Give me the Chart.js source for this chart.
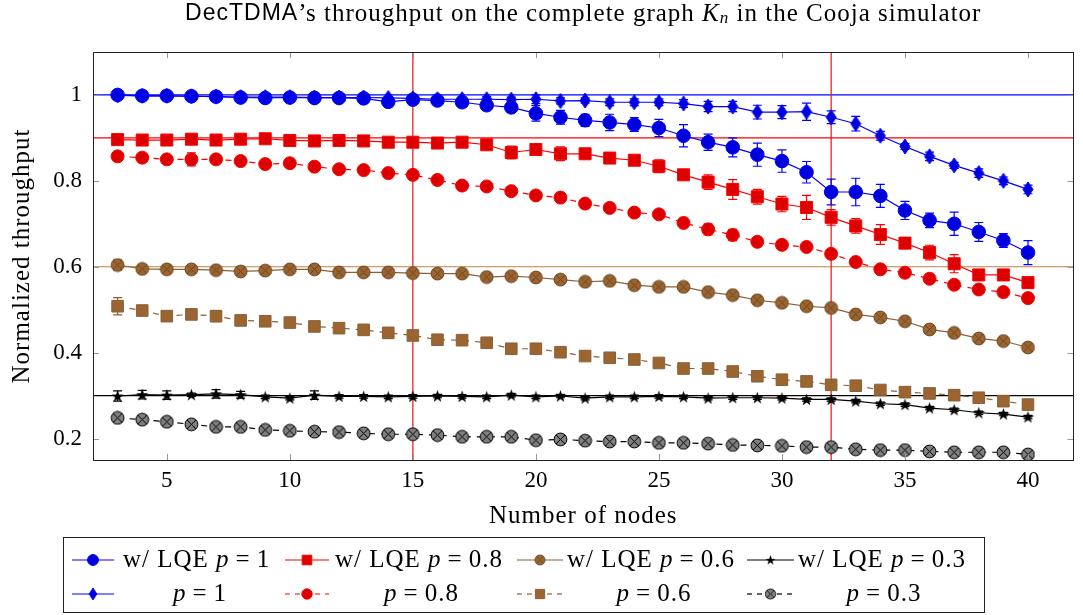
<!DOCTYPE html>
<html>
<head>
<meta charset="utf-8">
<script src="https://cdn.jsdelivr.net/npm/chart.js@4"></script>
<style>
  html, body { margin: 0; padding: 0; background: #fff; }
  #wrap { width: 1083px; height: 615px; }
</style>
</head>
<body>
<div id="wrap"><canvas id="c" width="1083" height="615"></canvas></div>
<script>
const nodes = [3, 4, 5, 6, 7, 8, 9, 10, 11, 12, 13, 14, 15, 16, 17, 18, 19, 20, 21, 22,
  23, 24, 25, 26, 27, 28, 29, 30, 31, 32, 33, 34, 35, 36, 37, 38, 39, 40];

// w/ LQE series
const lqeP1 = [1.0, 0.998, 0.998, 0.997, 0.996, 0.994, 0.993, 0.994, 0.993, 0.993, 0.992, 0.984, 0.989,
  0.987, 0.983, 0.976, 0.971, 0.957, 0.948, 0.941, 0.936, 0.931, 0.923, 0.905, 0.89, 0.878,
  0.861, 0.846, 0.82, 0.774, 0.774, 0.765, 0.731, 0.708, 0.7, 0.681, 0.661, 0.633];
const lqeP08 = [0.896, 0.895, 0.895, 0.897, 0.895, 0.897, 0.898, 0.894, 0.893, 0.894, 0.893, 0.89, 0.89,
  0.888, 0.89, 0.884, 0.866, 0.873, 0.863, 0.863, 0.853, 0.848, 0.834, 0.814, 0.797, 0.78,
  0.763, 0.746, 0.738, 0.715, 0.695, 0.675, 0.655, 0.633, 0.607, 0.581, 0.581, 0.563];
const lqeP06 = [0.604, 0.595, 0.594, 0.594, 0.592, 0.589, 0.591, 0.594, 0.594, 0.587, 0.587, 0.587, 0.585,
  0.584, 0.584, 0.576, 0.578, 0.575, 0.57, 0.565, 0.567, 0.557, 0.553, 0.553, 0.541, 0.534,
  0.522, 0.516, 0.508, 0.504, 0.489, 0.482, 0.473, 0.454, 0.446, 0.433, 0.427, 0.412];
const lqeP03 = [0.299, 0.302, 0.301, 0.302, 0.304, 0.302, 0.297, 0.294, 0.301, 0.298, 0.298, 0.297, 0.298,
  0.299, 0.298, 0.297, 0.301, 0.297, 0.299, 0.294, 0.297, 0.297, 0.298, 0.297, 0.294, 0.295,
  0.295, 0.294, 0.291, 0.291, 0.287, 0.281, 0.279, 0.271, 0.267, 0.26, 0.257, 0.25];

// without LQE
const p1 = [0.999, 0.998, 0.998, 0.997, 0.996, 0.995, 0.995, 0.995, 0.994, 0.994, 0.994, 0.993, 0.992,
  0.99, 0.99, 0.99, 0.989, 0.99, 0.986, 0.987, 0.983, 0.983, 0.983, 0.98, 0.973, 0.973,
  0.96, 0.96, 0.961, 0.948, 0.933, 0.905, 0.88, 0.857, 0.836, 0.818, 0.8, 0.78];
const p08 = [0.857, 0.854, 0.85, 0.85, 0.85, 0.846, 0.839, 0.841, 0.833, 0.827, 0.825, 0.818, 0.814,
  0.802, 0.789, 0.787, 0.776, 0.766, 0.761, 0.747, 0.737, 0.726, 0.722, 0.702, 0.687, 0.674,
  0.658, 0.651, 0.646, 0.63, 0.611, 0.594, 0.586, 0.572, 0.558, 0.547, 0.541, 0.527];
const p06 = [0.508, 0.498, 0.485, 0.489, 0.485, 0.475, 0.473, 0.47, 0.461, 0.457, 0.453, 0.446, 0.44,
  0.43, 0.429, 0.423, 0.409, 0.409, 0.401, 0.392, 0.388, 0.384, 0.376, 0.363, 0.363, 0.356,
  0.345, 0.337, 0.333, 0.325, 0.323, 0.313, 0.308, 0.305, 0.301, 0.295, 0.287, 0.279];
const p03 = [0.248, 0.244, 0.239, 0.233, 0.227, 0.227, 0.22, 0.218, 0.216, 0.215, 0.212, 0.21, 0.21,
  0.208, 0.204, 0.204, 0.204, 0.196, 0.198, 0.195, 0.193, 0.193, 0.19, 0.19, 0.188, 0.185,
  0.184, 0.183, 0.18, 0.18, 0.175, 0.173, 0.173, 0.17, 0.168, 0.168, 0.168, 0.163];

// error bar half-widths
const errLqeP1 = [0.003, 0.003, 0.003, 0.003, 0.003, 0.003, 0.003, 0.003, 0.003, 0.003, 0.003, 0.003, 0.003,
  0.003, 0.003, 0.01, 0.01, 0.018, 0.016, 0.014, 0.019, 0.016, 0.02, 0.026, 0.019, 0.022,
  0.027, 0.026, 0.025, 0.03, 0.032, 0.027, 0.021, 0.017, 0.027, 0.022, 0.016, 0.028];
const errLqeP08 = [0.004, 0.004, 0.004, 0.004, 0.004, 0.004, 0.004, 0.004, 0.004, 0.004, 0.004, 0.004, 0.004,
  0.004, 0.004, 0.004, 0.015, 0.008, 0.016, 0.008, 0.008, 0.008, 0.015, 0.01, 0.017, 0.023,
  0.017, 0.018, 0.028, 0.018, 0.017, 0.023, 0.012, 0.017, 0.021, 0.008, 0.008, 0.008];
const errLqeP06 = [0.012, 0.004, 0.01, 0.004, 0.004, 0.004, 0.004, 0.004, 0.004, 0.004, 0.004, 0.004, 0.004,
  0.004, 0.004, 0.004, 0.004, 0.004, 0.004, 0.004, 0.004, 0.004, 0.004, 0.004, 0.004, 0.004,
  0.004, 0.004, 0.004, 0.004, 0.004, 0.004, 0.004, 0.004, 0.004, 0.004, 0.004, 0.004];
const errLqeP03 = [0.012, 0.01, 0.01, 0.004, 0.01, 0.008, 0.004, 0.004, 0.01, 0.004, 0.004, 0.004, 0.004,
  0.004, 0.004, 0.004, 0.004, 0.004, 0.004, 0.004, 0.004, 0.004, 0.004, 0.004, 0.004, 0.004,
  0.004, 0.004, 0.004, 0.004, 0.004, 0.004, 0.004, 0.004, 0.004, 0.004, 0.004, 0.004];
const errP1 = [0.003, 0.003, 0.003, 0.003, 0.003, 0.003, 0.003, 0.003, 0.003, 0.003, 0.003, 0.003, 0.003,
  0.005, 0.006, 0.006, 0.006, 0.01, 0.007, 0.006, 0.008, 0.008, 0.008, 0.009, 0.012, 0.012,
  0.016, 0.015, 0.02, 0.015, 0.017, 0.01, 0.007, 0.01, 0.007, 0.01, 0.009, 0.01];
const errP08 = [0.004, 0.004, 0.006, 0.015, 0.004, 0.004, 0.004, 0.004, 0.004, 0.004, 0.004, 0.004, 0.004,
  0.004, 0.004, 0.004, 0.004, 0.004, 0.004, 0.004, 0.004, 0.004, 0.004, 0.004, 0.013, 0.013,
  0.008, 0.008, 0.008, 0.006, 0.006, 0.006, 0.006, 0.006, 0.006, 0.006, 0.006, 0.006];
const errP06 = [0.02, 0.004, 0.004, 0.004, 0.013, 0.004, 0.004, 0.004, 0.004, 0.004, 0.004, 0.004, 0.004,
  0.004, 0.004, 0.004, 0.004, 0.004, 0.004, 0.004, 0.004, 0.004, 0.004, 0.004, 0.004, 0.004,
  0.004, 0.004, 0.004, 0.004, 0.004, 0.004, 0.004, 0.004, 0.004, 0.004, 0.004, 0.004];
const errP03 = nodes.map(() => 0.003);

const xTicks = [5, 10, 15, 20, 25, 30, 35, 40];
const yTicks = [0.2, 0.4, 0.6, 0.8, 1];
const refLevels = [1, 0.9, 0.6, 0.3];
const refLevelColors = ['#0000ff', '#ff0000', '#c08040', '#000000'];
const refNodes = [15, 32];

const serif = '"Liberation Serif", "Times New Roman", serif';
const sans = '"Liberation Sans", Arial, sans-serif';
const tickSize = 23;
const textSize = 25;

// little canvases used as point styles
function marker(w, h, fn) {
  const c = document.createElement('canvas');
  c.width = w;
  c.height = h;
  fn(c.getContext('2d'), w / 2, h / 2);
  return c;
}
const circleX = (fill, edge) => marker(15, 15, (ctx, cx, cy) => {
  const r = 6.4;
  ctx.beginPath();
  ctx.arc(cx, cy, r, 0, Math.PI * 2);
  ctx.fillStyle = fill;
  ctx.fill();
  ctx.lineWidth = 1;
  ctx.strokeStyle = edge;
  ctx.stroke();
  const d = r * Math.SQRT1_2;
  ctx.beginPath();
  ctx.moveTo(cx - d, cy - d); ctx.lineTo(cx + d, cy + d);
  ctx.moveTo(cx + d, cy - d); ctx.lineTo(cx - d, cy + d);
  ctx.stroke();
});
const diamond = marker(12, 17, (ctx, cx, cy) => {
  ctx.beginPath();
  ctx.moveTo(cx, cy - 7.5); ctx.lineTo(cx + 5, cy); ctx.lineTo(cx, cy + 7.5); ctx.lineTo(cx - 5, cy);
  ctx.closePath();
  ctx.fillStyle = '#0000dd';
  ctx.fill();
  ctx.strokeStyle = '#0000ff';
  ctx.lineWidth = 1;
  ctx.stroke();
});
const star = marker(15, 15, (ctx, cx, cy) => {
  ctx.beginPath();
  for (let k = 0; k < 10; k++) {
    const r = k % 2 ? 2.6 : 6.5;
    const a = -Math.PI / 2 + k * Math.PI / 5;
    ctx.lineTo(cx + r * Math.cos(a), cy + 0.5 + r * Math.sin(a));
  }
  ctx.closePath();
  ctx.fillStyle = '#000';
  ctx.fill();
});

const series = [
  { lqe: true, p: '1', data: lqeP1, err: errLqeP1, line: '#0000ff', fill: '#0000dd', style: 'circle', radius: 6.8, dash: [] },
  { lqe: true, p: '0.8', data: lqeP08, err: errLqeP08, line: '#ff0000', fill: '#dd0000', style: 'rect', radius: 8.5, dash: [] },
  { lqe: true, p: '0.6', data: lqeP06, err: errLqeP06, line: '#8a6038', fill: '#9a6530', style: circleX('#9a6530', '#6e4520'), radius: 7, dash: [] },
  { lqe: true, p: '0.3', data: lqeP03, err: errLqeP03, line: '#000000', fill: '#000', style: star, radius: 7, dash: [] },
  { lqe: false, p: '1', data: p1, err: errP1, line: '#0000ff', fill: '#0000dd', style: diamond, radius: 7, dash: [] },
  { lqe: false, p: '0.8', data: p08, err: errP08, line: '#ff0000', fill: '#dd0000', style: 'circle', radius: 6.5, dash: [6, 6] },
  { lqe: false, p: '0.6', data: p06, err: errP06, line: '#8a6038', fill: '#9a6530', style: 'rect', radius: 8.2, dash: [6, 6] },
  { lqe: false, p: '0.3', data: p03, err: errP03, line: '#000000', fill: '#808080', style: circleX('#808080', '#000'), radius: 7, dash: [6, 6] },
];

const datasets = series.map((s, i) => ({
  label: (s.lqe ? 'w/ LQE ' : '') + 'p = ' + s.p,
  data: nodes.map((n, k) => ({ x: n, y: s.data[k] })),
  errors: s.err,
  borderColor: s.line,
  borderWidth: 1.2,
  borderDash: s.dash,
  backgroundColor: s.fill,
  pointStyle: s.style,
  pointRadius: s.radius,
  pointBorderColor: s.line,
  pointBorderWidth: 1,
  pointBackgroundColor: s.fill,
  tension: 0,
  order: series.length - i,
}));

const refLinesPlugin = {
  id: 'refLines',
  beforeDatasetsDraw(chart) {
    const { ctx, chartArea: a, scales } = chart;
    ctx.save();
    ctx.lineWidth = 1.2;
    refLevels.forEach((v, i) => {
      const y = scales.y.getPixelForValue(v);
      ctx.strokeStyle = refLevelColors[i];
      ctx.beginPath(); ctx.moveTo(a.left, y); ctx.lineTo(a.right, y); ctx.stroke();
    });
    ctx.strokeStyle = '#ee1111';
    refNodes.forEach((v) => {
      const x = scales.x.getPixelForValue(v);
      ctx.beginPath(); ctx.moveTo(x, a.top); ctx.lineTo(x, a.bottom); ctx.stroke();
    });
    ctx.restore();
  },
};

const errorBarsPlugin = {
  id: 'errorBars',
  beforeDatasetsDraw(chart) {
    const { ctx, scales } = chart;
    ctx.save();
    ctx.lineWidth = 1.2;
    chart.data.datasets.forEach((ds, i) => {
      const meta = chart.getDatasetMeta(i);
      ctx.strokeStyle = ds.borderColor;
      meta.data.forEach((pt, k) => {
        const v = ds.data[k].y;
        const e = ds.errors[k];
        const y0 = scales.y.getPixelForValue(v - e);
        const y1 = scales.y.getPixelForValue(v + e);
        const x = pt.x;
        ctx.beginPath();
        ctx.moveTo(x, y0); ctx.lineTo(x, y1);
        ctx.moveTo(x - 4.5, y0); ctx.lineTo(x + 4.5, y0);
        ctx.moveTo(x - 4.5, y1); ctx.lineTo(x + 4.5, y1);
        ctx.stroke();
      });
    });
    ctx.restore();
  },
};

const framePlugin = {
  id: 'frame',
  afterDatasetsDraw(chart) {
    const { ctx, chartArea: a, scales } = chart;
    ctx.save();
    ctx.strokeStyle = '#999';
    ctx.lineWidth = 1;
    ctx.beginPath();
    xTicks.forEach((v) => {
      const x = Math.round(scales.x.getPixelForValue(v)) + 0.5;
      ctx.moveTo(x, a.bottom); ctx.lineTo(x, a.bottom - 6);
      ctx.moveTo(x, a.top); ctx.lineTo(x, a.top + 6);
    });
    yTicks.forEach((v) => {
      const y = Math.round(scales.y.getPixelForValue(v)) + 0.5;
      ctx.moveTo(a.left, y); ctx.lineTo(a.left + 6, y);
      ctx.moveTo(a.right, y); ctx.lineTo(a.right - 6, y);
    });
    ctx.stroke();
    ctx.strokeStyle = '#222';
    ctx.strokeRect(Math.round(a.left) + 0.5, Math.round(a.top) + 0.5,
      Math.round(a.right - a.left) - 1, Math.round(a.bottom - a.top));
    ctx.restore();
  },
};

// draws a run of differently styled text pieces; a number is a gap in px
function drawPieces(ctx, pieces, x, y, align) {
  let total = 0;
  pieces.forEach((p) => {
    if (typeof p === 'number') { total += p; return; }
    ctx.font = p.f;
    total += ctx.measureText(p.t).width;
  });
  let cx = align === 'center' ? x - total / 2 : x;
  ctx.textBaseline = 'middle';
  ctx.textAlign = 'left';
  pieces.forEach((p) => {
    if (typeof p === 'number') { cx += p; return; }
    ctx.font = p.f;
    ctx.fillText(p.t, cx, y + (p.dy || 0));
    cx += ctx.measureText(p.t).width;
  });
  return total;
}

const textPlugin = {
  id: 'texts',
  afterDraw(chart) {
    const { ctx, chartArea: a } = chart;
    const up = `${textSize}px ${serif}`;
    const it = `italic ${textSize}px ${serif}`;
    ctx.save();
    ctx.fillStyle = '#000';
    ctx.letterSpacing = '1px';

    // title
    drawPieces(ctx, [
      { t: 'DecTDMA', f: `23px ${sans}` },
      { t: '\u2019s throughput on the complete graph ', f: up },
      { t: 'K', f: it },
      { t: 'n', f: `italic 17px ${serif}`, dy: 5 },
      { t: ' in the Cooja simulator', f: up },
    ], (a.left + a.right) / 2, 14, 'center');

    // axis titles
    drawPieces(ctx, [{ t: 'Number of nodes', f: up }], (a.left + a.right) / 2, 516, 'center');
    ctx.save();
    ctx.translate(22, (a.top + a.bottom) / 2);
    ctx.rotate(-Math.PI / 2);
    drawPieces(ctx, [{ t: 'Normalized throughput', f: up }], 0, 0, 'center');
    ctx.restore();

    // legend: 4 columns, LQE row on top, plain row below
    const cols = [
      { l0: 72, l1: 114, tx: 123, tw: 154 },
      { l0: 285, l1: 329, tx: 335, tw: 173 },
      { l0: 517, l1: 563, tx: 567, tw: 174 },
      { l0: 747, l1: 794, tx: 798, tw: 172 },
    ];
    const rows = [560, 594];
    ctx.strokeStyle = '#222';
    ctx.lineWidth = 1;
    ctx.strokeRect(63.5, 537.5, 921, 75);
    chart.data.datasets.forEach((ds, i) => {
      const s = series[i];
      const c = cols[i % 4];
      const y = rows[s.lqe ? 0 : 1];
      const mx = (c.l0 + c.l1) / 2;
      ctx.save();
      ctx.strokeStyle = ds.borderColor;
      ctx.lineWidth = 1.2;
      ctx.setLineDash(s.dash.length ? [5, 5] : []);
      ctx.beginPath(); ctx.moveTo(c.l0, y); ctx.lineTo(c.l1, y); ctx.stroke();
      ctx.restore();
      if (typeof ds.pointStyle === 'string') {
        ctx.fillStyle = ds.pointBackgroundColor;
        ctx.strokeStyle = ds.pointBorderColor;
        ctx.lineWidth = 1;
        Chart.helpers.drawPoint(ctx, {
          pointStyle: ds.pointStyle,
          radius: ds.pointRadius * 0.8,
          borderWidth: 1,
          rotation: 0,
        }, mx, y);
      } else {
        const img = ds.pointStyle;
        ctx.drawImage(img, mx - img.width * 0.4, y - img.height * 0.4, img.width * 0.8, img.height * 0.8);
      }
      ctx.fillStyle = '#000';
      if (s.lqe) {
        drawPieces(ctx, [{ t: 'w/ LQE ', f: up }, { t: 'p', f: it }, 6, { t: '=', f: up }, 6, { t: s.p, f: up }], c.tx, y, 'left');
      } else {
        drawPieces(ctx, [{ t: 'p', f: it }, 6, { t: '=', f: up }, 6, { t: s.p, f: up }], c.tx + c.tw / 2, y, 'center');
      }
    });
    ctx.restore();
  },
};

new Chart(document.getElementById('c'), {
  type: 'line',
  data: { datasets },
  options: {
    responsive: false,
    animation: false,
    layout: { padding: { top: 52, right: 2, left: 0, bottom: 0 } },
    plugins: {
      legend: { display: false },
      title: { display: false },
      tooltip: { enabled: false },
    },
    scales: {
      x: {
        type: 'linear',
        min: 2,
        max: 41.85,
        grid: { display: false, drawTicks: false },
        border: { display: false },
        afterFit: (s) => { s.height = 155; },
        afterBuildTicks: (s) => { s.ticks = xTicks.map((v) => ({ value: v })); },
        ticks: { color: '#000', padding: 7, font: { family: serif, size: tickSize }, maxRotation: 0 },
      },
      y: {
        min: 0.15,
        max: 1.1,
        grid: { display: false, drawTicks: false },
        border: { display: false },
        afterFit: (s) => { s.width = 93; },
        afterBuildTicks: (s) => { s.ticks = yTicks.map((v) => ({ value: v })); },
        ticks: { color: '#000', padding: 11, font: { family: serif, size: tickSize }, callback: (v) => String(v) },
      },
    },
  },
  plugins: [refLinesPlugin, errorBarsPlugin, framePlugin, textPlugin],
});
</script>
</body>
</html>
